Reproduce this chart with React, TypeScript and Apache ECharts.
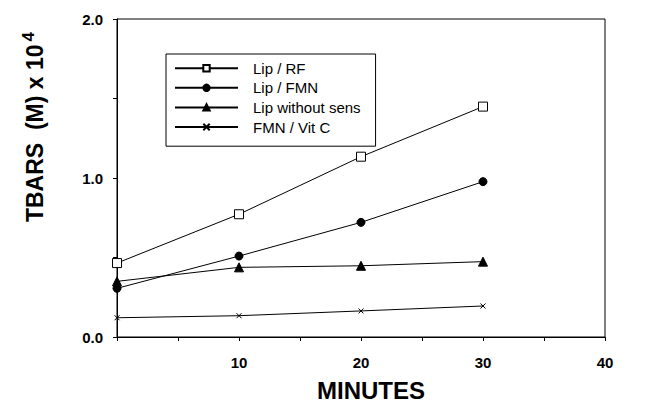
import React, { useEffect, useRef } from "react";
import * as echarts from "echarts";

const minutes = [0, 10, 20, 30];
const lipRF = [0.465, 0.772, 1.134, 1.449];
const lipFMN = [0.306, 0.509, 0.721, 0.977];
const lipWithoutSens = [0.35, 0.438, 0.448, 0.474];
const fmnVitC = [0.121, 0.134, 0.164, 0.195];
const seriesNames = ["Lip / RF", "Lip / FMN", "Lip without sens", "FMN / Vit C"];
const xTickLabels = [10, 20, 30, 40];
const yTickLabels = [0, 1, 2];

const FONT = "'Liberation Sans', Arial, sans-serif";

const pair = (ys: number[]) => minutes.map((m, i) => [m, ys[i]]);

export default function App() {
  const ref = useRef<HTMLDivElement>(null);
  useEffect(() => {
    document.body.style.margin = "0";
    const chart = echarts.init(ref.current!, null, { renderer: "svg" });
    const common = {
      type: "line" as const,
      lineStyle: { color: "#000", width: 1 },
      itemStyle: { color: "#000", borderColor: "#000", borderWidth: 1 },
      emphasis: { disabled: true },
    };
    chart.setOption({
      animation: false,
      backgroundColor: "#fff",
      grid: {
        left: 117,
        top: 19,
        right: 42,
        bottom: 68,
        outerBoundsMode: "none",
        containLabel: false,
        show: true,
        borderColor: "#000",
        borderWidth: 1,
        backgroundColor: "transparent",
      },
      legend: {
        orient: "vertical",
        left: 166,
        top: 54,
        data: seriesNames,
        itemWidth: 63,
        itemHeight: 8,
        itemGap: 4.6,
        padding: [6.7, 15, 11.7, 8],
        borderColor: "#000",
        borderWidth: 1,
        backgroundColor: "#fff",
        textStyle: {
          fontFamily: FONT,
          fontSize: 15,
          lineHeight: 14,
          color: "#000",
          padding: [0, 0, 0, 10],
        },
      },
      xAxis: {
        type: "value",
        min: 0,
        max: 40,
        interval: 5,
        name: "MINUTES",
        nameLocation: "middle",
        nameGap: 41,
        nameTextStyle: {
          fontFamily: FONT,
          fontSize: 24,
          fontWeight: "bold",
          color: "#000",
          padding: [0, 0, 0, 20],
        },
        axisLine: { lineStyle: { color: "#000", width: 1 } },
        axisTick: { show: true, length: 4, inside: false, lineStyle: { color: "#000" } },
        splitLine: { show: false },
        axisLabel: {
          margin: 18,
          fontFamily: FONT,
          fontSize: 15,
          fontWeight: "bold",
          color: "#000",
          formatter: (v: number) => (xTickLabels.includes(v) ? String(v) : ""),
        },
      },
      yAxis: {
        type: "value",
        min: 0,
        max: 2,
        interval: 0.5,
        axisLine: { show: true, lineStyle: { color: "#000", width: 1 } },
        axisTick: { show: true, length: 4, inside: false, lineStyle: { color: "#000" } },
        splitLine: { show: false },
        axisLabel: {
          margin: 14,
          fontFamily: FONT,
          fontSize: 15,
          fontWeight: "bold",
          color: "#000",
          formatter: (v: number) => (yTickLabels.includes(v) ? v.toFixed(1) : ""),
        },
      },
      graphic: [
        {
          type: "text",
          x: 35,
          y: 127,
          rotation: Math.PI / 2,
          style: {
            text: "TBARS  (M) x 10{sup|4}",
            fontFamily: FONT,
            fontSize: 23,
            fontWeight: "bold",
            fill: "#000",
            align: "center",
            verticalAlign: "middle",
            rich: {
              sup: { fontFamily: FONT, fontSize: 17, fontWeight: "bold", fill: "#000", padding: [0, 0, 14, 3] },
            },
          },
        },
      ],
      series: [
        {
          ...common,
          name: seriesNames[0],
          data: pair(lipRF),
          symbol: "rect",
          symbolSize: 9,
          itemStyle: { color: "#fff", borderColor: "#000", borderWidth: 1 },
        },
        { ...common, name: seriesNames[1], data: pair(lipFMN), symbol: "circle", symbolSize: 8 },
        { ...common, name: seriesNames[2], data: pair(lipWithoutSens), symbol: "triangle", symbolSize: 9 },
        {
          ...common,
          name: seriesNames[3],
          data: pair(fmnVitC),
          symbol: "path://M0,0L10,10M10,0L0,10",
          symbolSize: 5,
          itemStyle: { color: "none", borderColor: "#000", borderWidth: 1 },
        },
      ],
    });
    return () => chart.dispose();
  }, []);
  return <div ref={ref} style={{ width: 647, height: 405 }} />;
}
